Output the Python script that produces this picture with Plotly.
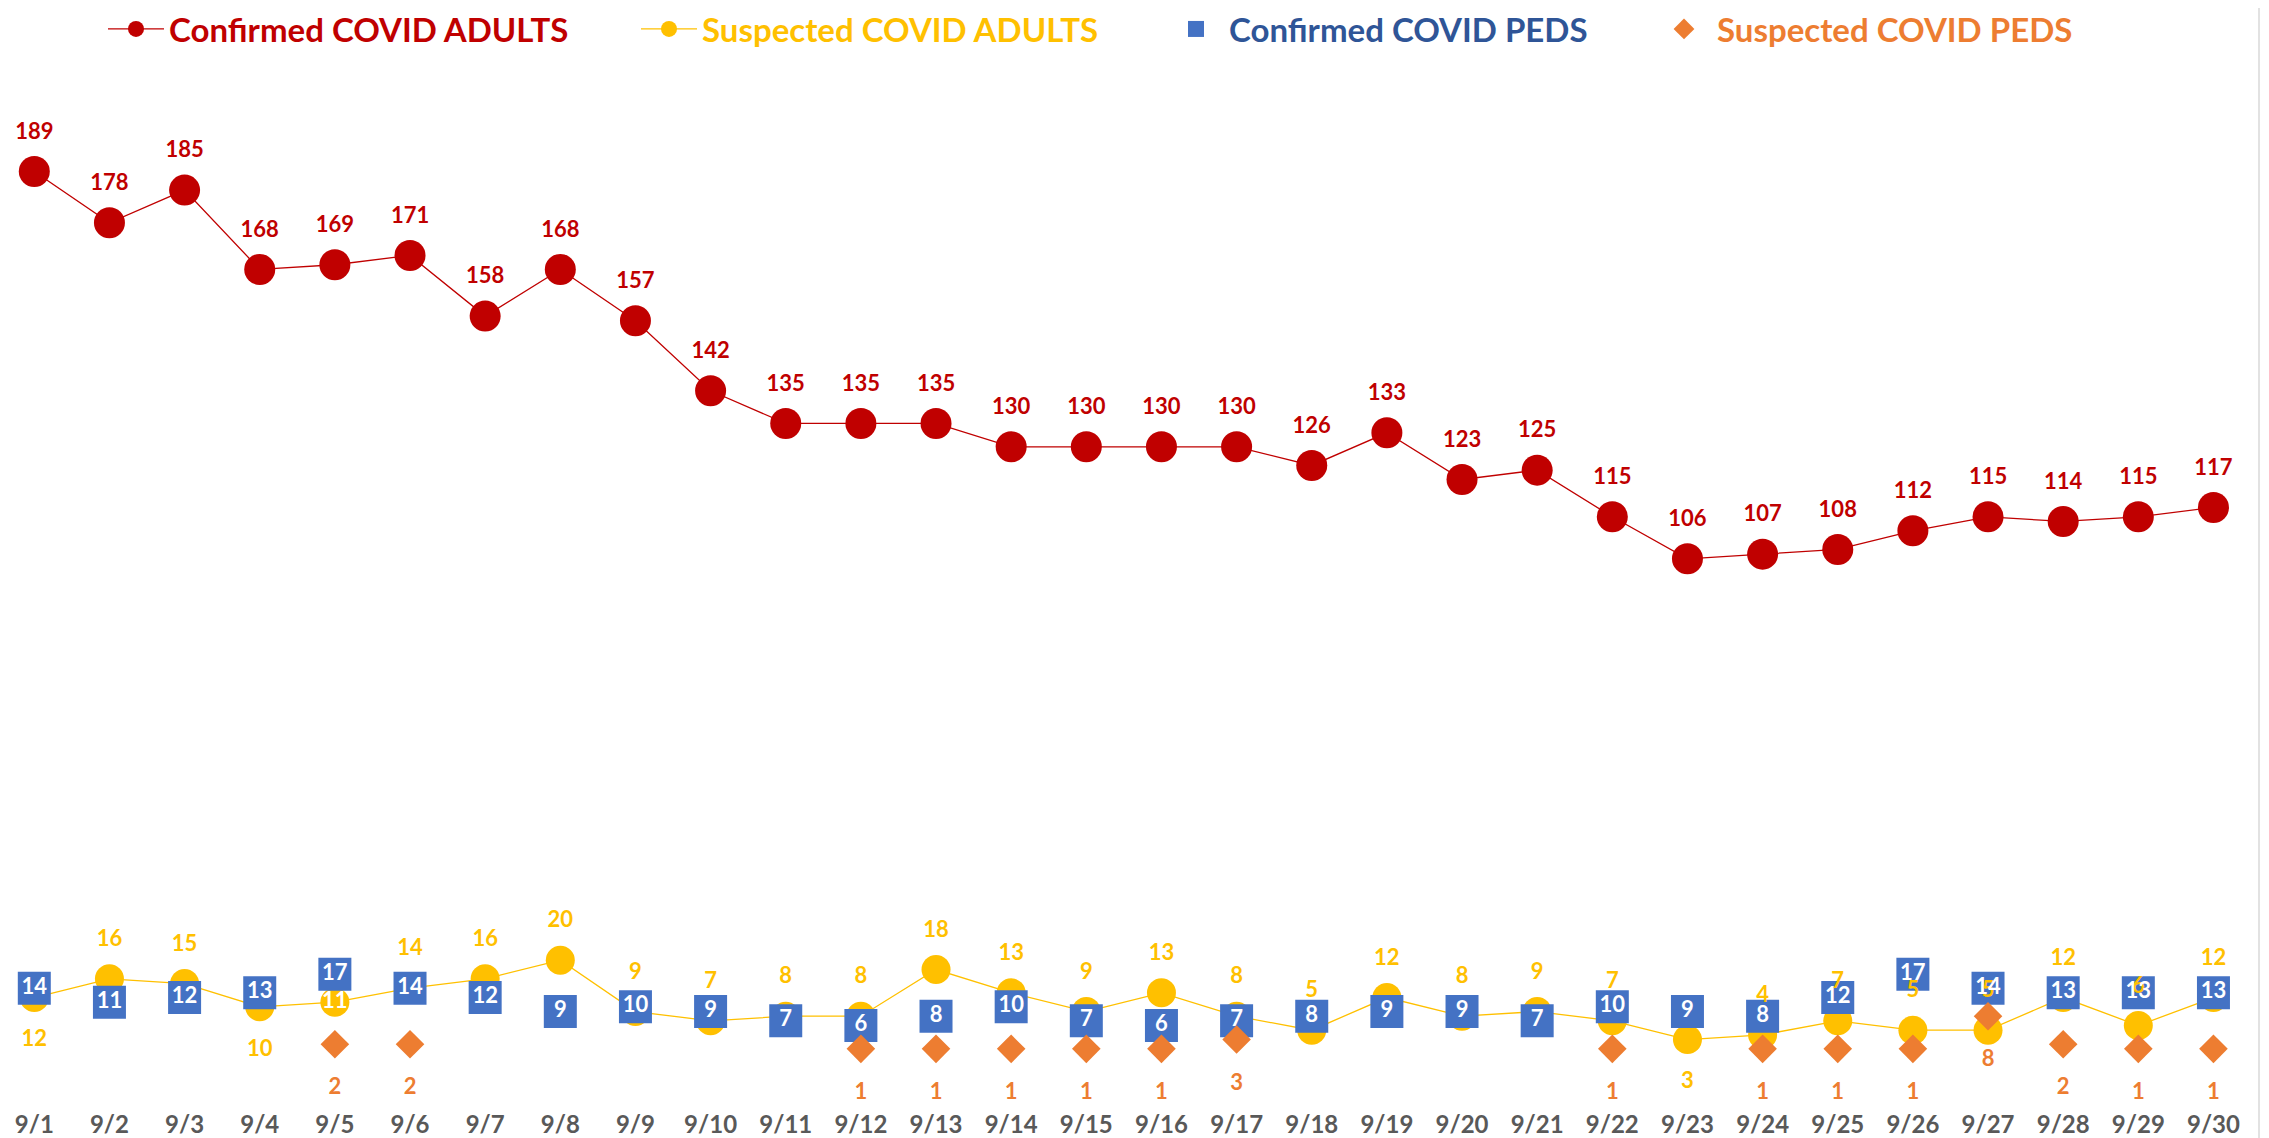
import plotly.graph_objects as go

dates = [f"9/{d}" for d in range(1, 31)]
confirmed_adults = [189, 178, 185, 168, 169, 171, 158, 168, 157, 142, 135, 135, 135, 130, 130,
                    130, 130, 126, 133, 123, 125, 115, 106, 107, 108, 112, 115, 114, 115, 117]
suspected_adults = [12, 16, 15, 10, 11, 14, 16, 20, 9, 7, 8, 8, 18, 13, 9,
                    13, 8, 5, 12, 8, 9, 7, 3, 4, 7, 5, 5, 12, 6, 12]
confirmed_peds = [14, 11, 12, 13, 17, 14, 12, 9, 10, 9, 7, 6, 8, 10, 7,
                  6, 7, 8, 9, 9, 7, 10, 9, 8, 12, 17, 14, 13, 13, 13]
suspected_peds = [None, None, None, None, 2, 2, None, None, None, None, None, 1, 1, 1, 1,
                  1, 3, None, None, None, None, 1, None, 1, 1, 1, 8, 2, 1, 1]

RED = "#C00000"
YEL = "#FFC000"
BLUE = "#4472C4"
ORG = "#ED7D31"
FONT = "Lato"
CLEAR = "rgba(0,0,0,0)"

fig = go.Figure()

fig.add_trace(go.Scatter(
    x=dates, y=confirmed_adults, mode="lines+markers", name="Confirmed COVID ADULTS",
    line=dict(color=RED, width=1.3), marker=dict(color=RED, size=31, symbol="circle"),
    legend="legend", hoverinfo="skip"))
fig.add_trace(go.Scatter(
    x=dates, y=suspected_adults, mode="lines+markers", name="Suspected COVID ADULTS",
    line=dict(color=YEL, width=1.3), marker=dict(color=YEL, size=29, symbol="circle"),
    legend="legend2", hoverinfo="skip"))
fig.add_trace(go.Scatter(
    x=dates, y=confirmed_peds, mode="markers", name="Confirmed COVID PEDS",
    marker=dict(color=BLUE, size=33, symbol="square"),
    legend="legend3", hoverinfo="skip"))
fig.add_trace(go.Scatter(
    x=dates, y=suspected_peds, mode="markers", name="Suspected COVID PEDS",
    marker=dict(color=ORG, size=22, symbol="diamond"),
    legend="legend4", hoverinfo="skip"))

# data labels drawn on top of all markers (invisible spacer markers set the label offset)
fig.add_trace(go.Scatter(
    x=dates, y=confirmed_adults, mode="markers+text", text=[str(v) for v in confirmed_adults],
    textposition="top center", showlegend=False, hoverinfo="skip",
    marker=dict(size=42, color=CLEAR, line=dict(width=0)),
    textfont=dict(family=FONT, size=22, color=RED, weight="bold")))

ya_pos = ["top center"] * 30
ya_col = [YEL] * 30
ya_size = [42] * 30
for i in (0, 3, 22):
    ya_pos[i] = "bottom center"
    ya_size[i] = 50
ya_pos[4] = "middle center"
ya_col[4] = "#FFFFFF"
ya_size[4] = 0
fig.add_trace(go.Scatter(
    x=dates, y=suspected_adults, mode="markers+text", text=[str(v) for v in suspected_adults],
    textposition=ya_pos, showlegend=False, hoverinfo="skip",
    marker=dict(size=ya_size, color=CLEAR, line=dict(width=0)),
    textfont=dict(family=FONT, size=22, color=ya_col, weight="bold")))
fig.add_trace(go.Scatter(
    x=dates, y=confirmed_peds, mode="text", text=[str(v) for v in confirmed_peds],
    textposition="middle center", showlegend=False, hoverinfo="skip",
    textfont=dict(family=FONT, size=22, color="#FFFFFF", weight="bold")))
fig.add_trace(go.Scatter(
    x=dates, y=suspected_peds, mode="markers+text",
    text=["" if v is None else str(v) for v in suspected_peds],
    textposition="bottom center", showlegend=False, hoverinfo="skip",
    marker=dict(size=52, color=CLEAR, line=dict(width=0)),
    textfont=dict(family=FONT, size=22, color=ORG, weight="bold")))

W_FULL = 2269
def lx(px):
    return px / W_FULL

leg_common = dict(orientation="h", yanchor="middle", y=1 - 21 / 1138, xanchor="left",
                  xref="container", yref="container",
                  bgcolor="rgba(0,0,0,0)", itemsizing="trace", itemwidth=56)
LSIZE = 33
fig.update_layout(
    width=2269, height=1138,
    margin=dict(l=0, r=18, t=60, b=38, autoexpand=False),
    paper_bgcolor="white", plot_bgcolor="white",
    showlegend=True,
    legend=dict(**leg_common, x=lx(95), font=dict(family=FONT, size=LSIZE, color=RED, weight="bold")),
    legend2=dict(**leg_common, x=lx(628), font=dict(family=FONT, size=LSIZE, color=YEL, weight="bold")),
    legend3=dict(**leg_common, x=lx(1155), font=dict(family=FONT, size=LSIZE, color="#2F5597", weight="bold")),
    legend4=dict(**leg_common, x=lx(1643), font=dict(family=FONT, size=LSIZE, color=ORG, weight="bold")),
    xaxis=dict(type="category", categoryorder="array", categoryarray=dates,
               range=[-0.35, 29.606], showgrid=False, zeroline=False, showline=False,
               ticks="", tickfont=dict(family=FONT, size=24, color="#595959", weight="bold")),
    yaxis=dict(range=[-11.67, 211.16], showgrid=False, zeroline=False, showline=False,
               showticklabels=False, ticks=""),
    shapes=[dict(type="line", xref="paper", yref="paper", x0=1, x1=1, y0=-0.04, y1=1.06,
                 line=dict(color="#D9D9D9", width=1.5))],
)

fig.write_html("out.html")
